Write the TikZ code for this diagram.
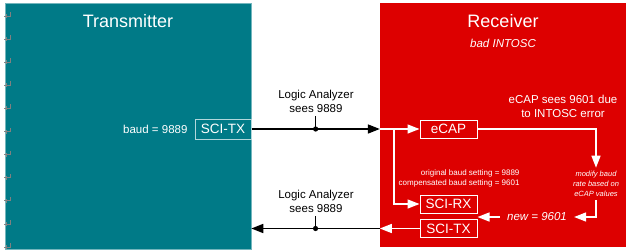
\documentclass[tikz,border=0pt]{standalone}
\usepackage{fontspec}
\setmainfont{Liberation Sans}
\usepackage{tikz}
\usetikzlibrary{arrows.meta, calc}
\definecolor{txteal}{RGB}{0, 122, 135}
\definecolor{rxred}{RGB}{221, 0, 0}
\newcommand{\fsz}[2]{\fontsize{#1}{#2}\selectfont}

\begin{document}
\begin{tikzpicture}[x=1pt, y=-1pt, >={Triangle[length=12pt,width=9pt]},
  panel/.style={minimum width=246pt, inner sep=0pt},
  blkbox/.style={draw=white, line width=1pt, text=white, font=\fsz{13.5}{16},
    minimum width=57pt, minimum height=18pt, inner sep=0pt},
  sig/.style={line width=1.6pt, ->},
  wsig/.style={white, line width=1.4pt, ->},
  lbl/.style={text=white, align=center}]
  \useasboundingbox (0,0) rectangle (632,250);

  % Panels
  \node[panel, fill=txteal, draw=txteal!55!white, line width=0.6pt, minimum height=246pt] (txpanel) at (128,126) {};
  \node[panel, fill=rxred, minimum height=244pt] (rxpanel) at (503,125) {};
  \node[lbl, font=\fsz{18}{20}] (txtitle) at (128,21) {Transmitter};
  \node[lbl, font=\fsz{18}{20}] (rxtitle) at (503,21) {Receiver};
  \node[lbl, font=\fsz{11.5}{14}\itshape] (rxnote) at (503,43) {bad INTOSC};

  % Paragraph marks along the left edge
  \foreach \i in {0,...,10} {
    \draw[gray, line width=0.7pt] (4,16+23.1*\i) -- (10,16+23.1*\i) -- (10,12+23.1*\i);
    \draw[gray, line width=0.7pt] (6,14+23.1*\i) -- (6,18+23.1*\i);
  }

  % Transmitter side
  \node[blkbox, draw=white!70!txteal, minimum width=56pt, minimum height=20pt] (txsci) at (223,129) {SCI-TX};
  \node[lbl, font=\fsz{11.5}{14}, anchor=east] (txbaud) at (191,129) {baud = 9889};

  % Receiver side
  \node[blkbox] (ecap) at (448.5,129) {eCAP};
  \node[blkbox] (scirx) at (448.5,204) {SCI-RX};
  \node[blkbox] (rxsci) at (448.5,228.5) {SCI-TX};
  \node[lbl, font=\fsz{11.5}{14}] (ecapnote) at (563,106) {eCAP sees 9601 due\\to INTOSC error};
  \node[lbl, font=\fsz{8}{9.5}, align=right, anchor=east] (basenote) at (523,178.5)
    {original baud setting = 9889\\compensated baud setting = 9601};
  \node[lbl, font=\fsz{7.5}{10}\itshape] (modnote) at (596,184) {modify baud\\rate based on\\eCAP values};
  \node[lbl, font=\fsz{11.5}{14}\itshape, inner xsep=7pt] (newval) at (537,217) {new = 9601};

  % Line into the receiver
  \coordinate (rxin) at (rxpanel.west |- txsci.east);
  \draw[sig] (txsci.east) -- (rxin);
  \coordinate (split) at ($(rxin)+(14,0)$);
  \draw[wsig] (rxin) -- (ecap.west);
  \draw[wsig] (split) |- (scirx.west);

  % Baud correction loop
  \draw[wsig] (ecap.east) -| (modnote.north);
  \draw[wsig] (modnote.south) |- (newval.east);
  \draw[wsig] (newval.west) -- (newval.west -| scirx.east);

  % Line back to the transmitter
  \coordinate (rxout) at (rxpanel.west |- rxsci.west);
  \coordinate (txout) at (txpanel.east |- rxsci.west);
  \draw[wsig] (rxsci.west) -- (rxout);
  \draw[sig] (rxout) -- (txout);

  % Logic analyzer probes
  \coordinate (probe1) at ($(txsci.east)!0.5!(rxin)$);
  \coordinate (probe2) at ($(txout)!0.5!(rxout)$);
  \node[font=\fsz{11.5}{14}, align=center] (la1) at (316,101) {Logic Analyzer\\sees 9889};
  \node[font=\fsz{11.5}{14}, align=center] (la2) at (316,201) {Logic Analyzer\\sees 9889};
  \draw[line width=1.2pt] (probe1) -- (probe1 |- la1.south);
  \draw[line width=1.2pt] (probe2) -- (probe2 |- la2.south);
  \fill (probe1) circle (2.6pt);
  \fill (probe2) circle (2.6pt);
\end{tikzpicture}
\end{document}
